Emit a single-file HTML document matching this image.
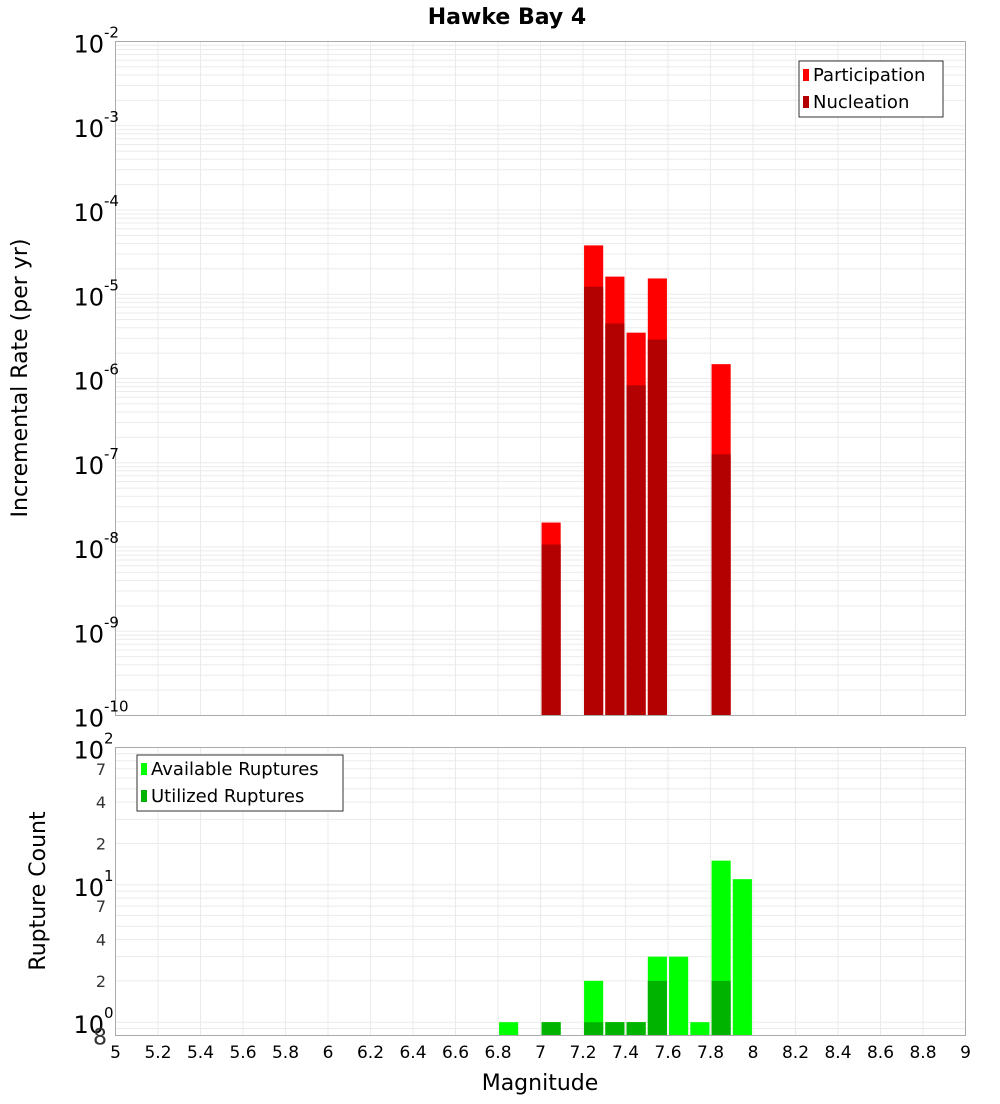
<!DOCTYPE html>
<html><head><meta charset="utf-8"><style>
body{margin:0;background:#fff;font-family:"DejaVu Sans","Liberation Sans",sans-serif}
svg text{font-family:"DejaVu Sans","Liberation Sans",sans-serif}
</style></head><body>
<svg id="chart" width="1000" height="1100" xmlns="http://www.w3.org/2000/svg">
<text x="507" y="24" font-size="22" font-weight="bold" text-anchor="middle">Hawke Bay 4</text>
<text transform="translate(27,378) rotate(-90)" font-size="22" text-anchor="middle">Incremental Rate (per yr)</text>
<text transform="translate(45,891) rotate(-90)" font-size="22" text-anchor="middle">Rupture Count</text>
<text x="540" y="1090" font-size="22" text-anchor="middle">Magnitude</text>
<g id="topPlot"></g>
<g id="botPlot"></g>
</svg>
<script>
const mags = [7.05, 7.25, 7.35, 7.45, 7.55, 7.85];
const participation = [1.95e-8, 3.8e-5, 1.62e-5, 3.5e-6, 1.54e-5, 1.48e-6];
const nucleation = [1.07e-8, 1.23e-5, 4.5e-6, 8.3e-7, 2.9e-6, 1.26e-7];
const countMags = [6.85, 7.05, 7.25, 7.35, 7.45, 7.55, 7.65, 7.75, 7.85, 7.95];
const available = [1, 1, 2, 1, 1, 3, 3, 1, 15, 11];
const utilized = [0, 1, 1, 1, 1, 2, 0, 0, 2, 0];
const xTicks = [5,5.2,5.4,5.6,5.8,6,6.2,6.4,6.6,6.8,7,7.2,7.4,7.6,7.8,8,8.2,8.4,8.6,8.8,9];
const rateExps = [-2,-3,-4,-5,-6,-7,-8,-9,-10];

const NS="http://www.w3.org/2000/svg";
const L=115.5,R=965.5;
const xs=m=>L+(m-5)/4*(R-L);
const T1=41.5,B1=715.5,yTop=v=>T1+(-2-Math.log10(v))/8*(B1-T1);
const T2=747.5,B2=1035.5,lmin=Math.log10(0.8),lmax=2;
const yBot=v=>B2-(Math.log10(v)-lmin)/(lmax-lmin)*(B2-T2);
function el(p,tag,a,txt){const e=document.createElementNS(NS,tag);for(const k in a)e.setAttribute(k,a[k]);if(txt!==undefined)e.textContent=txt;p.appendChild(e);return e;}
const gTop=document.getElementById('topPlot'),gBot=document.getElementById('botPlot');
function grid(g,T,B,yf,decs){
  xTicks.forEach(t=>{const l=el(g,'line',{x1:xs(t),x2:xs(t),y1:T,y2:B,stroke:'#ebebeb'});
    
    });
  decs.forEach(d=>{for(let k=1;k<10;k++){const y=yf(k*Math.pow(10,d));if(y<T-0.1||y>B+0.1)continue;const l=el(g,'line',{x1:L,x2:R,y1:y,y2:y,stroke:'#ebebeb'});
    
    }});
}
grid(gTop,T1,B1,yTop,[-10,-9,-8,-7,-6,-5,-4,-3,-2]);
grid(gBot,T2,B2,yBot,[-1,0,1,2]);
const bw=0.09;
mags.forEach((m,i)=>{
  let r=el(gTop,'rect',{x:xs(m-bw/2),y:yTop(participation[i]),width:xs(m+bw/2)-xs(m-bw/2),height:B1-yTop(participation[i]),fill:'#ff0000'});
  
  
  r=el(gTop,'rect',{x:xs(m-bw/2),y:yTop(nucleation[i]),width:xs(m+bw/2)-xs(m-bw/2),height:B1-yTop(nucleation[i]),fill:'#b30000'});
  
  
});
countMags.forEach((m,i)=>{
  let r=el(gBot,'rect',{x:xs(m-bw/2),y:yBot(available[i]),width:xs(m+bw/2)-xs(m-bw/2),height:B2-yBot(available[i]),fill:'#00ff00'});
  
  
  if(utilized[i]>0){r=el(gBot,'rect',{x:xs(m-bw/2),y:yBot(utilized[i]),width:xs(m+bw/2)-xs(m-bw/2),height:B2-yBot(utilized[i]),fill:'#00b300'});
  
  }
});
[[T1,B1,gTop],[T2,B2,gBot]].forEach(([T,B,g])=>{const f=el(g,'rect',{x:L,y:T,width:R-L,height:B-T,fill:'none',stroke:'#aaa'});
  
  });
rateExps.forEach(e=>{const y=yTop(Math.pow(10,e));
  const t=el(gTop,'text',{x:104,y:y+11,'font-size':24,'text-anchor':'end'},'10');
  
  
  const s=el(gTop,'text',{x:104,y:y-4,'font-size':15},String(e));
  
  });
[[100,'2'],[10,'1'],[1,'0']].forEach(([v,e])=>{const y=yBot(v);
  const t=el(gBot,'text',{x:104,y:y+11,'font-size':24,'text-anchor':'end'},'10');
  
  
  const s=el(gBot,'text',{x:104,y:y-4,'font-size':15},e);
  
  });
[70,40,20,7,4,2,0.8].forEach(v=>{const y=yBot(v);const lab=v<1?'8':String(v>=10?v/10:v);
  const t=el(gBot,'text',{x:v<1?107:106,y:y+(v<1?9:6),'font-size':v<1?22:16,'text-anchor':'end',fill:'#333'},lab);
  
  });
xTicks.forEach(t=>{const e=el(gBot,'text',{x:xs(t),y:1058,'font-size':17,'text-anchor':'middle'},String(t));
  
  });
function legend(g,x0,y0,w,items){const b=el(g,'rect',{x:x0,y:y0,width:w,height:56,fill:'#fff',stroke:'#333'});
  
  
  items.forEach(([c,lab],i)=>{const yy=y0+15+i*27;const s=el(g,'rect',{x:x0+4,y:yy-7,width:6,height:12,fill:c});
  
  
  const t=el(g,'text',{x:x0+14,y:yy+5,'font-size':18},lab);
  
  });}
legend(gTop,799,61,144,[['#ff0000','Participation'],['#b30000','Nucleation']]);
legend(gBot,137,755,206,[['#00ff00','Available Ruptures'],['#00b300','Utilized Ruptures']]);
</script>
</body></html>
